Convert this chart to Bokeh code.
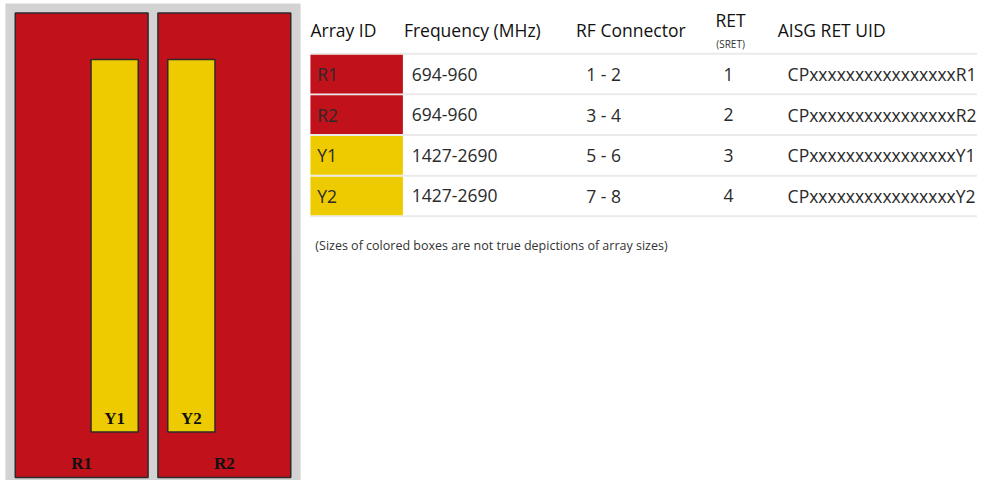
from bokeh.plotting import figure
from bokeh.models import Range1d, ColumnDataSource
from bokeh.core.properties import value
from bokeh.embed import file_html
from bokeh.resources import INLINE

# ---- data ----
array_ids = ["R1", "R2", "Y1", "Y2"]
frequencies = ["694-960", "694-960", "1427-2690", "1427-2690"]
rf_connectors = ["1 - 2", "3 - 4", "5 - 6", "7 - 8"]
ret_sret = ["1", "2", "3", "4"]
uids = ["CPxxxxxxxxxxxxxxxxR1", "CPxxxxxxxxxxxxxxxxR2",
        "CPxxxxxxxxxxxxxxxxY1", "CPxxxxxxxxxxxxxxxxY2"]
headers = ["Array ID", "Frequency (MHz)", "RF Connector", "RET", "AISG RET UID"]
footnote = "(Sizes of colored boxes are not true depictions of array sizes)"

RED = "#C1121B"
YELLOW = "#EECB00"
GRAY = "#D3D3D3"
EDGE = "#2b2b2b"
color_of = {"R": RED, "Y": YELLOW}

p = figure(width=977, height=480, output_backend="svg", toolbar_location=None,
           x_range=Range1d(0, 993), y_range=Range1d(496, 0),
           min_border=0, outline_line_color=None)
p.axis.visible = False
p.grid.visible = False
p.background_fill_color = "white"
p.border_fill_color = "white"

# ---- antenna diagram ----
p.quad(left=[5], right=[305], top=[3], bottom=[500], fill_color=GRAY, line_color=None)
red_left = [15, 160]
red_right = [150, 295]
p.quad(left=red_left, right=red_right, top=[13, 13], bottom=[493, 493],
       fill_color=RED, line_color=EDGE, line_width=1.5)
yel_left = [92, 170]
yel_right = [140, 218]
p.quad(left=yel_left, right=yel_right, top=[61, 61], bottom=[446, 446],
       fill_color=YELLOW, line_color=EDGE, line_width=1.5)

serif = value("Liberation Serif")
p.text(x=[(a + b) / 2 for a, b in zip(red_left, red_right)], y=[478, 478],
       text=array_ids[:2], text_font=serif, text_font_style="bold",
       text_font_size="17px", text_align="center", text_baseline="middle",
       text_color="#111111")
p.text(x=[(a + b) / 2 for a, b in zip(yel_left, yel_right)], y=[432, 432],
       text=array_ids[2:], text_font=serif, text_font_style="bold",
       text_font_size="17px", text_align="center", text_baseline="middle",
       text_color="#111111")

# ---- table ----
sans = value("Open Sans")
row_top0 = 55
row_h = 42
tops = [row_top0 + i * row_h for i in range(len(array_ids))]
centers = [t + row_h / 2 for t in tops]

# row separators
p.segment(x0=[315] * 5, x1=[993] * 5, y0=[row_top0 + i * row_h for i in range(5)],
          y1=[row_top0 + i * row_h for i in range(5)], line_color="#EAEAEA", line_width=2)

# colored id cells
p.quad(left=[315] * 4, right=[409] * 4, top=[t + 1 for t in tops],
       bottom=[t + row_h - 1 for t in tops],
       fill_color=[color_of[a[0]] for a in array_ids], line_color=None)

# headers
p.text(x=[315, 410, 585], y=[30, 30, 30], text=headers[:3], text_font=sans,
       text_font_size="17.5px", text_align="left", text_baseline="middle", text_color="#111111")
p.text(x=[742], y=[20], text=[headers[3]], text_font=sans, text_font_size="17.5px",
       text_align="center", text_baseline="middle", text_color="#111111")
p.text(x=[742], y=[45], text=["(SRET)"], text_font=sans, text_font_size="10px",
       text_align="center", text_baseline="middle", text_color="#333333")
p.text(x=[790], y=[30], text=[headers[4]], text_font=sans, text_font_size="17.5px",
       text_align="left", text_baseline="middle", text_color="#111111")

src = ColumnDataSource(dict(y=centers, ids=array_ids, f=frequencies, rf=rf_connectors,
                            ret=ret_sret, uid=uids))
common = dict(y="y", source=src, text_font=sans, text_font_size="17.5px",
              text_baseline="middle", text_color="#2a2a2a")
p.text(x=322, text="ids", text_align="left", **common)
p.text(x=418, text="f", text_align="left", **common)
p.text(x=613, text="rf", text_align="center", **common)
p.text(x=740, text="ret", text_align="center", **common)
p.text(x=800, text="uid", text_align="left", **common)

p.text(x=[320], y=[253], text=[footnote], text_font=sans, text_font_size="12.5px",
       text_align="left", text_baseline="middle", text_color="#333333")

open("out.html", "w").write(file_html(p, INLINE))
